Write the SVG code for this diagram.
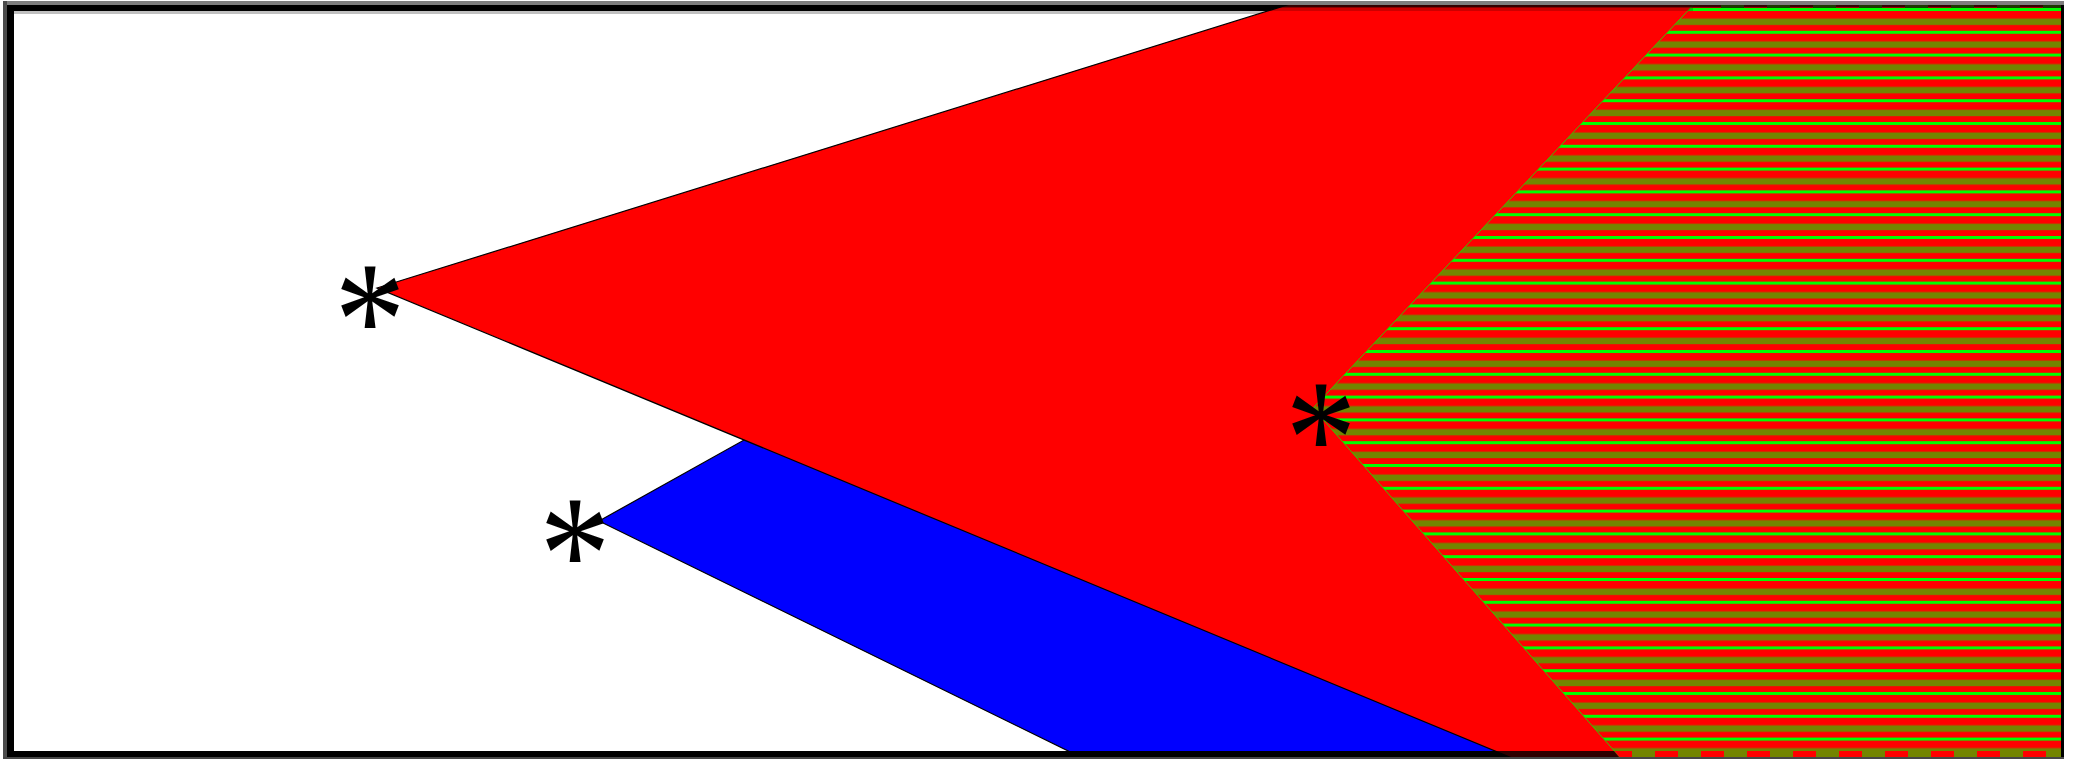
<svg xmlns="http://www.w3.org/2000/svg" width="2080" height="759" viewBox="0 0 2080 759">
<defs>
<pattern id="hatch" patternUnits="userSpaceOnUse" x="0" y="8" width="200" height="22.8">
<rect width="200" height="22.8" fill="#ff0000"/>
<rect y="0" width="200" height="3" fill="#00ff00"/>
<rect y="10.5" width="200" height="6.5" fill="#738500"/>
</pattern>
<clipPath id="inner"><rect x="14" y="5" width="2047" height="752"/></clipPath>
<clipPath id="blueclip"><rect x="14" y="11" width="2047" height="740"/></clipPath>
<clipPath id="hatchclip"><polygon points="1698,0 2061,0 2061,770 1631,770 1313,408"/></clipPath>
</defs>
<style>
.star{font-family:"Liberation Serif","Times New Roman",serif;font-size:168px;fill:#000;text-anchor:middle}
.edge{stroke:#000;stroke-width:1.2}
</style>
<rect width="2080" height="759" fill="#fff"/>
<g id="frame-base">
<rect x="3" y="1" width="2061" height="4" fill="#7f7f7f"/>
<rect x="3" y="1" width="4" height="758" fill="#4c4c4c"/>
<rect x="3" y="757" width="2061" height="2" fill="#474747"/>
<rect x="7" y="5" width="2057" height="6" fill="#000"/>
<rect x="7" y="5" width="7" height="752" fill="#000"/>
<rect x="7" y="751" width="2057" height="6" fill="#000"/>
<rect x="14" y="11" width="1260" height="3" fill="#c0c0c0"/>
</g>
<g id="blue-region" clip-path="url(#blueclip)">
<polygon class="edge" fill="#0000ff" points="599,521 900,353 1600,770 1107,770"/>
</g>
<g id="red-region" clip-path="url(#inner)">
<polygon class="edge" fill="#ff0000" points="377,288 1303,0 2070,0 2070,770 1541,770"/>
</g>
<g id="hatched-region" clip-path="url(#inner)">
<polygon fill="url(#hatch)" stroke="#3cc000" stroke-width="1" points="1698,0 2070,0 2070,770 1631,770 1313,408"/>
<g clip-path="url(#hatchclip)">
<rect x="1600" y="751" width="461" height="6" fill="#738500"/>
<line x1="1609" y1="754" x2="2061" y2="754" stroke="#ff0000" stroke-width="6" stroke-dasharray="23 23"/>
</g>
</g>
<g id="frame-top">
<rect x="1200" y="5" width="861" height="2.5" fill="#000" opacity="0.8"/>
<rect x="1200" y="7.5" width="493" height="3.5" fill="#000" opacity="0.2"/>
<polygon points="1480,751 1614,751 1619,757 1480,757" fill="#000" opacity="0.82"/>
<g clip-path="url(#hatchclip)">
<line x1="1721" y1="6.5" x2="2061" y2="6.5" stroke="#1c3800" stroke-width="3" stroke-dasharray="23 23"/>
</g>
<rect x="2061" y="5" width="3" height="752" fill="#000"/>
</g>
<g id="markers">
<text class="star" transform="translate(370 376) scale(0.85 1)">*</text>
<text class="star" transform="translate(575 610) scale(0.85 1)">*</text>
<text class="star" transform="translate(1321 494) scale(0.85 1)">*</text>
</g>
</svg>
